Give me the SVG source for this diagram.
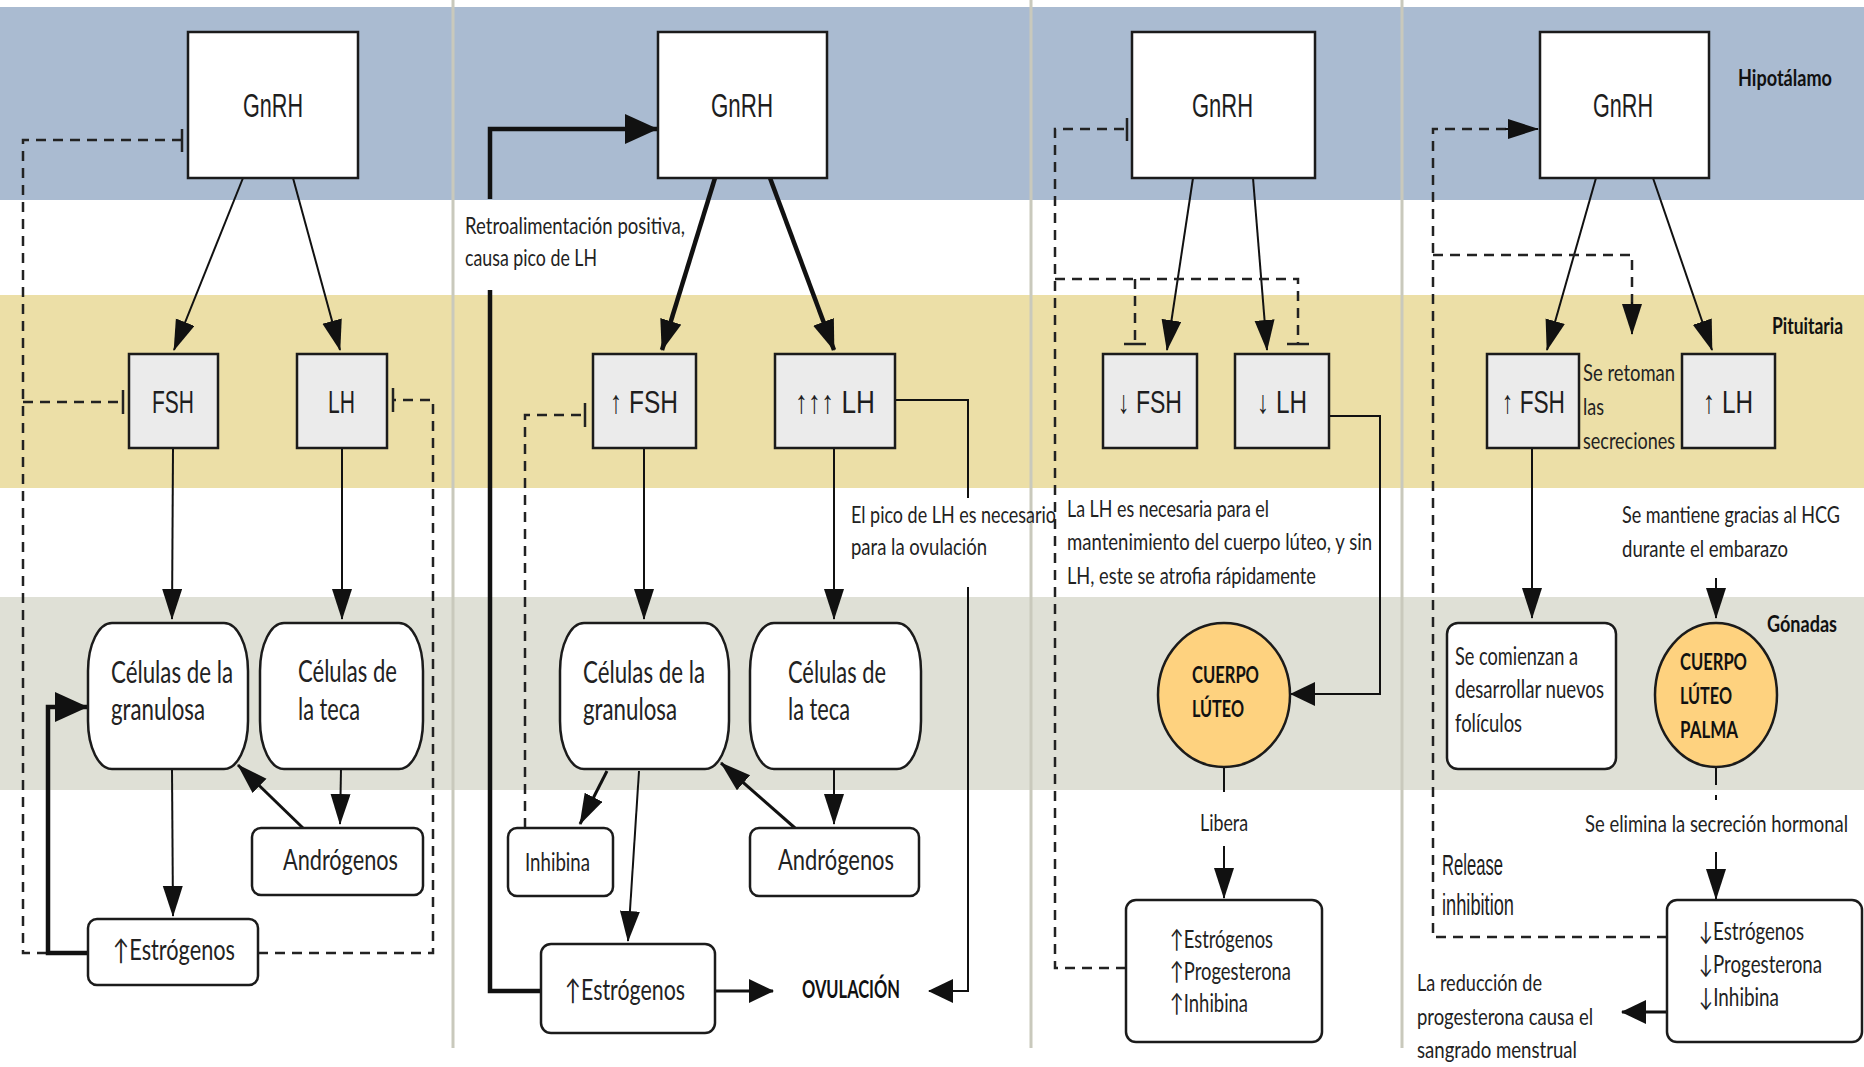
<svg xmlns="http://www.w3.org/2000/svg" width="1864" height="1067" viewBox="0 0 1864 1067">
<style>
.box{fill:#fff;stroke:#1b1b1b;stroke-width:2.5}
.hb{fill:#ebebeb;stroke:#1b1b1b;stroke-width:2.5}
.cl{fill:#fed27f;stroke:#1b1b1b;stroke-width:2.5}
.ln{fill:none;stroke:#111;stroke-width:2}
.tk{fill:none;stroke:#111;stroke-width:4.5}
.md{fill:none;stroke:#111;stroke-width:3}
.ds{fill:none;stroke:#222;stroke-width:2.5;stroke-dasharray:10 7}
.tee{stroke:#222;stroke-width:2.5}
.sep{stroke:#c9c9bc;stroke-width:3}
.t{font-family:Lato,"Open Sans","Noto Sans",sans-serif;fill:#222}
.b{font-family:Lato,"Open Sans","Noto Sans",sans-serif;font-weight:bold;fill:#111}
.n{font-family:"Liberation Sans Narrow","Liberation Sans",Arial,sans-serif;fill:#1e1e1e}
</style>
<defs>
<marker id="ah" markerUnits="userSpaceOnUse" markerWidth="34" markerHeight="22" refX="30" refY="10" orient="auto"><path d="M0,0 L31,10 L0,20 Z" fill="#111"/></marker>
<marker id="aht" markerUnits="userSpaceOnUse" markerWidth="34" markerHeight="24" refX="30" refY="11" orient="auto"><path d="M0,0 L31,11 L0,22 Z" fill="#111"/></marker>
<marker id="ahw" markerUnits="userSpaceOnUse" markerWidth="28" markerHeight="26" refX="24" refY="12" orient="auto"><path d="M0,0 L25,12 L0,24 Z" fill="#111"/></marker>
<marker id="ahb" markerUnits="userSpaceOnUse" markerWidth="36" markerHeight="32" refX="32" refY="15" orient="auto"><path d="M0,0 L33,15 L0,30 Z" fill="#111"/></marker>
</defs>
<rect width="1864" height="1067" fill="#fff"/>
<g id="bands">
<rect x="0" y="7" width="1864" height="193" fill="#aabbd1"/>
<rect x="0" y="295" width="1864" height="193" fill="#ecdfa7"/>
<rect x="0" y="597" width="1864" height="193" fill="#dfe0d6"/>
<line class="sep" x1="453" y1="0" x2="453" y2="1048"/>
<line class="sep" x1="1031" y1="0" x2="1031" y2="1048"/>
<line class="sep" x1="1402" y1="0" x2="1402" y2="1048"/>
</g>
<g id="connectors">
<!-- panel 1 -->
<line class="ln" x1="243" y1="178" x2="174" y2="350" marker-end="url(#ah)"/>
<line class="ln" x1="293" y1="178" x2="340" y2="350" marker-end="url(#ah)"/>
<line class="ln" x1="173" y1="448" x2="172" y2="619" marker-end="url(#ah)"/>
<line class="ln" x1="342" y1="448" x2="342" y2="619" marker-end="url(#ah)"/>
<line class="ln" x1="341" y1="769" x2="340" y2="824" marker-end="url(#ah)"/>
<line class="md" x1="303" y1="828" x2="238" y2="765" marker-end="url(#ah)"/>
<line class="ln" x1="172" y1="769" x2="173" y2="916" marker-end="url(#ah)"/>
<path class="ds" d="M182 140 H23 V953 H88"/>
<path class="ds" d="M23 402 H123"/>
<path class="ds" d="M258 953 H433 V400 H393"/>
<line class="tee" x1="182" y1="129" x2="182" y2="152"/>
<line class="tee" x1="123" y1="390" x2="123" y2="414"/>
<line class="tee" x1="393" y1="388" x2="393" y2="412"/>
<path class="tk" d="M88 953 H48 V707 H87" marker-end="url(#ahb)"/>
<!-- panel 2 -->
<line class="tk" x1="715" y1="178" x2="662" y2="350" marker-end="url(#aht)"/>
<line class="tk" x1="770" y1="178" x2="834" y2="350" marker-end="url(#aht)"/>
<line class="ln" x1="644" y1="448" x2="644" y2="619" marker-end="url(#ah)"/>
<line class="ln" x1="834" y1="448" x2="834" y2="619" marker-end="url(#ah)"/>
<line class="ln" x1="834" y1="769" x2="834" y2="824" marker-end="url(#ah)"/>
<line class="md" x1="795" y1="828" x2="721" y2="763" marker-end="url(#ah)"/>
<line class="md" x1="607" y1="771" x2="580" y2="824" marker-end="url(#ah)"/>
<line class="ln" x1="639" y1="771" x2="628" y2="941" marker-end="url(#ah)"/>
<line class="md" x1="715" y1="991" x2="773" y2="991" marker-end="url(#ahw)"/>
<path class="ln" d="M895 400 H968 V498"/>
<path class="ln" d="M968 587 V991 H929" marker-end="url(#ahw)"/>
<path class="tk" d="M541 991 H490 V290"/>
<path class="tk" d="M490 199 V129 H657" marker-end="url(#ahb)"/>
<path class="ds" d="M525 828 V415 H585"/>
<line class="tee" x1="585" y1="403" x2="585" y2="427"/>
<!-- panel 3 -->
<line class="ln" x1="1193" y1="178" x2="1167" y2="350" marker-end="url(#ah)"/>
<line class="ln" x1="1253" y1="178" x2="1267" y2="350" marker-end="url(#ah)"/>
<path class="ds" d="M1126 968 H1055 V129 H1127"/>
<line class="tee" x1="1127" y1="118" x2="1127" y2="141"/>
<path class="ds" d="M1055 279 H1298 V344"/>
<path class="ds" d="M1135 279 V344"/>
<line class="tee" x1="1124" y1="344" x2="1146" y2="344"/>
<line class="tee" x1="1287" y1="344" x2="1309" y2="344"/>
<path class="ln" d="M1329 416 H1380 V694 H1291" marker-end="url(#ahw)"/>
<line class="ln" x1="1224" y1="768" x2="1224" y2="792"/>
<line class="ln" x1="1224" y1="846" x2="1224" y2="898" marker-end="url(#ah)"/>
<!-- panel 4 -->
<line class="ln" x1="1596" y1="178" x2="1547" y2="350" marker-end="url(#ah)"/>
<line class="ln" x1="1653" y1="178" x2="1712" y2="350" marker-end="url(#ah)"/>
<path class="ds" d="M1667 937 H1433 V129 H1508"/>
<line class="ln" x1="1505" y1="129" x2="1538" y2="129" marker-end="url(#ah)"/>
<path class="ds" d="M1433 255 H1632 V305"/>
<line class="ln" x1="1632" y1="302" x2="1632" y2="334" marker-end="url(#ah)"/>
<line class="ln" x1="1532" y1="448" x2="1532" y2="618" marker-end="url(#ah)"/>
<line class="ln" x1="1716" y1="578" x2="1716" y2="618" marker-end="url(#ah)"/>
<line class="ln" x1="1716" y1="767" x2="1716" y2="785"/>
<line class="ln" x1="1716" y1="795" x2="1716" y2="800"/>
<line class="ln" x1="1716" y1="852" x2="1716" y2="899" marker-end="url(#ah)"/>
<line class="md" x1="1667" y1="1012" x2="1622" y2="1012" marker-end="url(#ahw)"/>
</g>
<g id="p1-gnrh"><rect class="box" x="188" y="32" width="170" height="146"/><text class="n" x="243" y="117" font-size="34" textLength="60" lengthAdjust="spacingAndGlyphs">GnRH</text></g>
<g id="p1-fsh"><rect class="hb" x="129" y="354" width="89" height="94"/><text class="n" x="152" y="413" font-size="32" textLength="42" lengthAdjust="spacingAndGlyphs">FSH</text></g>
<g id="p1-lh"><rect class="hb" x="297" y="354" width="90" height="94"/><text class="n" x="328" y="413" font-size="32" textLength="27" lengthAdjust="spacingAndGlyphs">LH</text></g>
<g id="p1-granulosa"><rect class="box" x="88" y="623" width="160" height="146" rx="24" ry="48"/><text class="t" x="111" y="683" font-size="30" textLength="122" lengthAdjust="spacingAndGlyphs">Células de la</text><text class="t" x="111" y="720" font-size="30" textLength="94" lengthAdjust="spacingAndGlyphs">granulosa</text></g>
<g id="p1-teca"><rect class="box" x="260" y="623" width="163" height="146" rx="24" ry="48"/><text class="t" x="298" y="682" font-size="30" textLength="99" lengthAdjust="spacingAndGlyphs">Células de</text><text class="t" x="298" y="720" font-size="30" textLength="62" lengthAdjust="spacingAndGlyphs">la teca</text></g>
<g id="p1-androgenos"><rect class="box" x="252" y="828" width="171" height="67" rx="9"/><text class="t" x="283" y="870" font-size="29" textLength="115" lengthAdjust="spacingAndGlyphs">Andrógenos</text></g>
<g id="p1-estrogenos"><rect class="box" x="88" y="919" width="170" height="66" rx="9"/><text class="t" x="113" y="960" font-size="28" textLength="122" lengthAdjust="spacingAndGlyphs">↑Estrógenos</text></g>

<g id="p2-gnrh"><rect class="box" x="658" y="32" width="169" height="146"/><text class="n" x="711" y="117" font-size="34" textLength="62" lengthAdjust="spacingAndGlyphs">GnRH</text></g>
<g id="p2-label1"><text class="t" x="465" y="234" font-size="24" textLength="220" lengthAdjust="spacingAndGlyphs">Retroalimentación positiva,</text><text class="t" x="465" y="266" font-size="24" textLength="132" lengthAdjust="spacingAndGlyphs">causa pico de LH</text></g>
<g id="p2-fsh"><rect class="hb" x="593" y="354" width="103" height="94"/><text class="n" x="610" y="413" font-size="32" textLength="68" lengthAdjust="spacingAndGlyphs">↑ FSH</text></g>
<g id="p2-lh"><rect class="hb" x="775" y="354" width="120" height="94" stroke-width="5"/><text class="n" x="795" y="413" font-size="32" textLength="80" lengthAdjust="spacingAndGlyphs">↑↑↑ LH</text></g>
<g id="p2-label2"><text class="t" x="851" y="523" font-size="24" textLength="205" lengthAdjust="spacingAndGlyphs">El pico de LH es necesario</text><text class="t" x="851" y="555" font-size="24" textLength="136" lengthAdjust="spacingAndGlyphs">para la ovulación</text></g>
<g id="p2-granulosa"><rect class="box" x="560" y="623" width="169" height="146" rx="24" ry="48"/><text class="t" x="583" y="683" font-size="30" textLength="122" lengthAdjust="spacingAndGlyphs">Células de la</text><text class="t" x="583" y="720" font-size="30" textLength="94" lengthAdjust="spacingAndGlyphs">granulosa</text></g>
<g id="p2-teca"><rect class="box" x="750" y="623" width="171" height="146" rx="24" ry="48"/><text class="t" x="788" y="683" font-size="30" textLength="98" lengthAdjust="spacingAndGlyphs">Células de</text><text class="t" x="788" y="720" font-size="30" textLength="62" lengthAdjust="spacingAndGlyphs">la teca</text></g>
<g id="p2-inhibina"><rect class="box" x="508" y="828" width="105" height="68" rx="9"/><text class="t" x="525" y="871" font-size="25" textLength="65" lengthAdjust="spacingAndGlyphs">Inhibina</text></g>
<g id="p2-androgenos"><rect class="box" x="750" y="828" width="169" height="68" rx="9"/><text class="t" x="778" y="870" font-size="29" textLength="116" lengthAdjust="spacingAndGlyphs">Andrógenos</text></g>
<g id="p2-estrogenos"><rect class="box" x="541" y="944" width="174" height="89" rx="10"/><text class="t" x="565" y="1000" font-size="28" textLength="120" lengthAdjust="spacingAndGlyphs">↑Estrógenos</text></g>
<g id="p2-ovulacion"><text class="b" x="802" y="998" font-size="24" textLength="98" lengthAdjust="spacingAndGlyphs">OVULACIÓN</text></g>

<g id="p3-gnrh"><rect class="box" x="1132" y="32" width="183" height="146"/><text class="n" x="1192" y="117" font-size="34" textLength="61" lengthAdjust="spacingAndGlyphs">GnRH</text></g>
<g id="p3-fsh"><rect class="hb" x="1103" y="354" width="94" height="94"/><text class="n" x="1118" y="413" font-size="32" textLength="64" lengthAdjust="spacingAndGlyphs">↓ FSH</text></g>
<g id="p3-lh"><rect class="hb" x="1235" y="354" width="94" height="94"/><text class="n" x="1257" y="413" font-size="32" textLength="50" lengthAdjust="spacingAndGlyphs">↓ LH</text></g>
<g id="p3-label"><text class="t" x="1067" y="517" font-size="24" textLength="202" lengthAdjust="spacingAndGlyphs">La LH es necesaria para el</text><text class="t" x="1067" y="550" font-size="24" textLength="305" lengthAdjust="spacingAndGlyphs">mantenimiento del cuerpo lúteo, y sin</text><text class="t" x="1067" y="584" font-size="24" textLength="249" lengthAdjust="spacingAndGlyphs">LH, este se atrofia rápidamente</text></g>
<g id="p3-cuerpo"><ellipse class="cl" cx="1224" cy="695" rx="66" ry="72"/><text class="b" x="1192" y="683" font-size="23" textLength="67" lengthAdjust="spacingAndGlyphs">CUERPO</text><text class="b" x="1192" y="717" font-size="23" textLength="52" lengthAdjust="spacingAndGlyphs">LÚTEO</text></g>
<g id="p3-libera"><text class="t" x="1200" y="831" font-size="24" textLength="48" lengthAdjust="spacingAndGlyphs">Libera</text></g>
<g id="p3-hormonas"><rect class="box" x="1126" y="900" width="196" height="142" rx="10"/><text class="t" x="1170" y="948" font-size="25" textLength="103" lengthAdjust="spacingAndGlyphs">↑Estrógenos</text><text class="t" x="1170" y="980" font-size="25" textLength="121" lengthAdjust="spacingAndGlyphs">↑Progesterona</text><text class="t" x="1170" y="1012" font-size="25" textLength="78" lengthAdjust="spacingAndGlyphs">↑Inhibina</text></g>

<g id="p4-gnrh"><rect class="box" x="1540" y="32" width="169" height="146"/><text class="n" x="1593" y="117" font-size="34" textLength="60" lengthAdjust="spacingAndGlyphs">GnRH</text></g>
<g id="lbl-hipotalamo"><text class="b" x="1738" y="86" font-size="22" textLength="94" lengthAdjust="spacingAndGlyphs">Hipotálamo</text></g>
<g id="lbl-pituitaria"><text class="b" x="1772" y="334" font-size="22" textLength="71" lengthAdjust="spacingAndGlyphs">Pituitaria</text></g>
<g id="lbl-gonadas"><text class="b" x="1767" y="632" font-size="22" textLength="70" lengthAdjust="spacingAndGlyphs">Gónadas</text></g>
<g id="p4-fsh"><rect class="hb" x="1487" y="354" width="92" height="94"/><text class="n" x="1502" y="413" font-size="32" textLength="63" lengthAdjust="spacingAndGlyphs">↑ FSH</text></g>
<g id="p4-lh"><rect class="hb" x="1682" y="354" width="93" height="94"/><text class="n" x="1703" y="413" font-size="32" textLength="50" lengthAdjust="spacingAndGlyphs">↑ LH</text></g>
<g id="p4-retoman"><text class="t" x="1583" y="381" font-size="24" textLength="92" lengthAdjust="spacingAndGlyphs">Se retoman</text><text class="t" x="1583" y="415" font-size="24" textLength="21" lengthAdjust="spacingAndGlyphs">las</text><text class="t" x="1583" y="449" font-size="24" textLength="92" lengthAdjust="spacingAndGlyphs">secreciones</text></g>
<g id="p4-hcg"><text class="t" x="1622" y="523" font-size="24" textLength="218" lengthAdjust="spacingAndGlyphs">Se mantiene gracias al HCG</text><text class="t" x="1622" y="557" font-size="24" textLength="166" lengthAdjust="spacingAndGlyphs">durante el embarazo</text></g>
<g id="p4-foliculos"><rect class="box" x="1447" y="623" width="169" height="146" rx="11"/><text class="t" x="1455" y="665" font-size="25" textLength="123" lengthAdjust="spacingAndGlyphs">Se comienzan a</text><text class="t" x="1455" y="698" font-size="25" textLength="149" lengthAdjust="spacingAndGlyphs">desarrollar nuevos</text><text class="t" x="1455" y="732" font-size="25" textLength="67" lengthAdjust="spacingAndGlyphs">folículos</text></g>
<g id="p4-cuerpo"><ellipse class="cl" cx="1716" cy="695" rx="61" ry="72"/><text class="b" x="1680" y="670" font-size="23" textLength="67" lengthAdjust="spacingAndGlyphs">CUERPO</text><text class="b" x="1680" y="704" font-size="23" textLength="52" lengthAdjust="spacingAndGlyphs">LÚTEO</text><text class="b" x="1680" y="738" font-size="23" textLength="58" lengthAdjust="spacingAndGlyphs">PALMA</text></g>
<g id="p4-elimina"><text class="t" x="1585" y="832" font-size="24" textLength="263" lengthAdjust="spacingAndGlyphs">Se elimina la secreción hormonal</text></g>
<g id="p4-release"><text class="n" x="1442" y="875" font-size="29" fill="#333" textLength="61" lengthAdjust="spacingAndGlyphs">Release</text><text class="n" x="1442" y="915" font-size="29" fill="#333" textLength="72" lengthAdjust="spacingAndGlyphs">inhibition</text></g>
<g id="p4-hormonas"><rect class="box" x="1667" y="900" width="195" height="142" rx="10"/><text class="t" x="1699" y="940" font-size="25" textLength="105" lengthAdjust="spacingAndGlyphs">↓Estrógenos</text><text class="t" x="1699" y="973" font-size="25" textLength="123" lengthAdjust="spacingAndGlyphs">↓Progesterona</text><text class="t" x="1699" y="1006" font-size="25" textLength="80" lengthAdjust="spacingAndGlyphs">↓Inhibina</text></g>
<g id="p4-sangrado"><text class="t" x="1417" y="991" font-size="24" textLength="125" lengthAdjust="spacingAndGlyphs">La reducción de</text><text class="t" x="1417" y="1025" font-size="24" textLength="176" lengthAdjust="spacingAndGlyphs">progesterona causa el</text><text class="t" x="1417" y="1058" font-size="24" textLength="160" lengthAdjust="spacingAndGlyphs">sangrado menstrual</text></g>
</svg>
